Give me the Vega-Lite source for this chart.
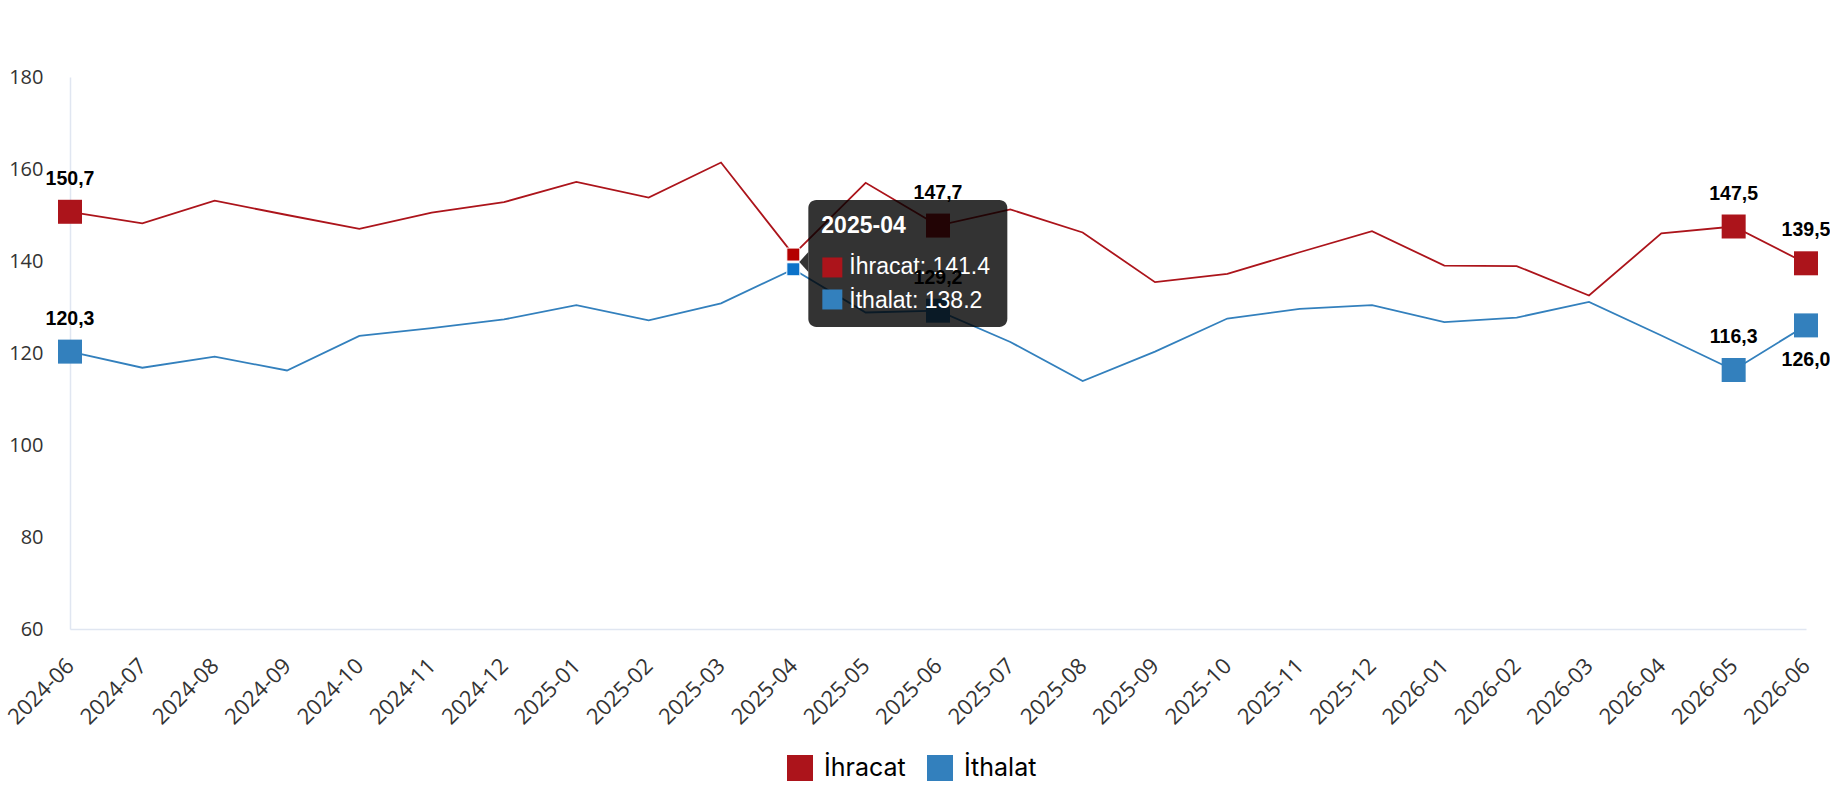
{
  "$schema": "https://vega.github.io/schema/vega-lite/v6.json",
  "width": 1736,
  "height": 552,
  "autosize": "none",
  "padding": {"left": 70, "top": 77, "right": 24, "bottom": 171},
  "data": {
    "values": [
      {"month": "2024-06", "series": "İhracat", "value": 150.7},
      {"month": "2024-07", "series": "İhracat", "value": 148.2},
      {"month": "2024-08", "series": "İhracat", "value": 153.1},
      {"month": "2024-09", "series": "İhracat", "value": 150.0},
      {"month": "2024-10", "series": "İhracat", "value": 147.0},
      {"month": "2024-11", "series": "İhracat", "value": 150.5},
      {"month": "2024-12", "series": "İhracat", "value": 152.8},
      {"month": "2025-01", "series": "İhracat", "value": 157.2},
      {"month": "2025-02", "series": "İhracat", "value": 153.8},
      {"month": "2025-03", "series": "İhracat", "value": 161.4},
      {"month": "2025-04", "series": "İhracat", "value": 141.4},
      {"month": "2025-05", "series": "İhracat", "value": 157.0},
      {"month": "2025-06", "series": "İhracat", "value": 147.7},
      {"month": "2025-07", "series": "İhracat", "value": 151.2},
      {"month": "2025-08", "series": "İhracat", "value": 146.2},
      {"month": "2025-09", "series": "İhracat", "value": 135.4},
      {"month": "2025-10", "series": "İhracat", "value": 137.2},
      {"month": "2025-11", "series": "İhracat", "value": 141.9},
      {"month": "2025-12", "series": "İhracat", "value": 146.5},
      {"month": "2026-01", "series": "İhracat", "value": 139.0},
      {"month": "2026-02", "series": "İhracat", "value": 138.9},
      {"month": "2026-03", "series": "İhracat", "value": 132.5},
      {"month": "2026-04", "series": "İhracat", "value": 146.0},
      {"month": "2026-05", "series": "İhracat", "value": 147.5},
      {"month": "2026-06", "series": "İhracat", "value": 139.5},
      {"month": "2024-06", "series": "İthalat", "value": 120.3},
      {"month": "2024-07", "series": "İthalat", "value": 116.8},
      {"month": "2024-08", "series": "İthalat", "value": 119.2},
      {"month": "2024-09", "series": "İthalat", "value": 116.2},
      {"month": "2024-10", "series": "İthalat", "value": 123.7},
      {"month": "2024-11", "series": "İthalat", "value": 125.4},
      {"month": "2024-12", "series": "İthalat", "value": 127.3},
      {"month": "2025-01", "series": "İthalat", "value": 130.4},
      {"month": "2025-02", "series": "İthalat", "value": 127.1},
      {"month": "2025-03", "series": "İthalat", "value": 130.8},
      {"month": "2025-04", "series": "İthalat", "value": 138.2},
      {"month": "2025-05", "series": "İthalat", "value": 128.8},
      {"month": "2025-06", "series": "İthalat", "value": 129.2},
      {"month": "2025-07", "series": "İthalat", "value": 122.4},
      {"month": "2025-08", "series": "İthalat", "value": 113.9},
      {"month": "2025-09", "series": "İthalat", "value": 120.3},
      {"month": "2025-10", "series": "İthalat", "value": 127.5},
      {"month": "2025-11", "series": "İthalat", "value": 129.6},
      {"month": "2025-12", "series": "İthalat", "value": 130.4},
      {"month": "2026-01", "series": "İthalat", "value": 126.7},
      {"month": "2026-02", "series": "İthalat", "value": 127.7},
      {"month": "2026-03", "series": "İthalat", "value": 131.1},
      {"month": "2026-04", "series": "İthalat", "value": 123.8},
      {"month": "2026-05", "series": "İthalat", "value": 116.3},
      {"month": "2026-06", "series": "İthalat", "value": 126.0}
    ]
  },
  "transform": [
    {"calculate": "replace(format(datum.value, '.1f'), '.', ',')", "as": "label"},
    {"calculate": "datum.series + ': ' + format(datum.value, '.1f')", "as": "tip"}
  ],
  "encoding": {
    "x": {
      "field": "month",
      "type": "ordinal",
      "scale": {"type": "point", "padding": 0},
      "axis": {
        "title": null,
        "ticks": false,
        "domainColor": "#E0E6F1",
        "domainWidth": 1.5,
        "labelAngle": -45,
        "labelAlign": "right",
        "labelBaseline": "middle",
        "labelPadding": 33,
        "labelFont": "Open Sans",
        "labelFontSize": 22,
        "labelColor": "#333333",
        "labelOverlap": false,
        "labelBound": false
      }
    },
    "y": {
      "field": "value",
      "type": "quantitative",
      "scale": {"domain": [60, 180], "nice": false, "zero": false},
      "axis": {
        "title": null,
        "values": [60, 80, 100, 120, 140, 160, 180],
        "grid": false,
        "ticks": false,
        "domainColor": "#E0E6F1",
        "domainWidth": 1.5,
        "labelPadding": 27,
        "labelFont": "Open Sans",
        "labelFontSize": 20,
        "labelColor": "#333333"
      }
    }
  },
  "layer": [
    {
      "mark": {"type": "line", "strokeWidth": 1.8},
      "encoding": {
        "color": {
          "field": "series",
          "type": "nominal",
          "scale": {"domain": ["İhracat", "İthalat"], "range": ["#AC141B", "#3380BD"]},
          "legend": {
            "title": null,
            "orient": "none",
            "direction": "horizontal",
            "legendX": 717,
            "legendY": 678,
            "padding": 0,
            "symbolType": "square",
            "symbolSize": 676,
            "symbolStrokeWidth": 0,
            "labelFont": "Inter",
            "labelFontSize": 25,
            "labelColor": "#000000",
            "labelOffset": 11,
            "columnPadding": 21,
            "encode": {
              "symbols": {
                "update": {
                  "fill": {"scale": "color", "field": "value"},
                  "stroke": {"value": "transparent"},
                  "opacity": {"value": 1}
                }
              }
            }
          }
        }
      }
    },
    {
      "transform": [{"filter": {"field": "month", "oneOf": ["2024-06", "2025-06", "2026-05", "2026-06"]}}],
      "mark": {"type": "point", "shape": "square", "filled": true, "size": 576, "opacity": 1},
      "encoding": {"color": {"field": "series", "type": "nominal"}}
    },
    {
      "transform": [{"filter": "datum.month == '2025-04'"}],
      "mark": {"type": "point", "shape": "square", "filled": true, "size": 169, "opacity": 1, "stroke": "#ffffff", "strokeWidth": 1},
      "encoding": {
        "fill": {
          "field": "series",
          "type": "nominal",
          "scale": {"domain": ["İhracat", "İthalat"], "range": ["#B40000", "#0B72C9"]},
          "legend": null
        }
      }
    },
    {
      "transform": [{"filter": "datum.month == '2025-04' && datum.series == 'İhracat'"}],
      "mark": {
        "type": "point",
        "shape": "M-0.92,-0.638 L0.92,-0.638 A0.08,0.08 0 0 1 1,-0.558 L1,0.558 A0.08,0.08 0 0 1 0.92,0.638 L-0.92,0.638 A0.08,0.08 0 0 1 -1,0.558 L-1,-0.558 A0.08,0.08 0 0 1 -0.92,-0.638 Z",
        "size": 39601,
        "filled": true,
        "color": "#000000",
        "opacity": 0.8,
        "strokeWidth": 0,
        "xOffset": 114.5,
        "yOffset": 9
      }
    },
    {
      "transform": [{"filter": "datum.month == '2025-04' && datum.series == 'İhracat'"}],
      "mark": {
        "type": "point",
        "shape": "M-0.45,0 L0.45,-1 L0.45,1 Z",
        "size": 400,
        "filled": true,
        "color": "#000000",
        "opacity": 0.8,
        "strokeWidth": 0,
        "xOffset": 10.5,
        "yOffset": 7.4
      }
    },
    {
      "transform": [{"filter": "datum.month == '2025-04' && datum.series == 'İhracat'"}],
      "mark": {
        "type": "text",
        "align": "left",
        "baseline": "alphabetic",
        "font": "Liberation Sans",
        "fontSize": 23,
        "fontWeight": "bold",
        "color": "#ffffff",
        "dx": 28,
        "dy": -21.6
      },
      "encoding": {"text": {"field": "month"}}
    },
    {
      "transform": [{"filter": "datum.month == '2025-04' && datum.series == 'İhracat'"}],
      "mark": {"type": "point", "shape": "square", "filled": true, "size": 400, "opacity": 1, "xOffset": 39, "yOffset": 12.9},
      "encoding": {"color": {"field": "series", "type": "nominal"}}
    },
    {
      "transform": [{"filter": "datum.month == '2025-04' && datum.series == 'İthalat'"}],
      "mark": {"type": "point", "shape": "square", "filled": true, "size": 400, "opacity": 1, "xOffset": 39, "yOffset": 30.2},
      "encoding": {"color": {"field": "series", "type": "nominal"}}
    },
    {
      "transform": [{"filter": "datum.month == '2025-04' && datum.series == 'İhracat'"}],
      "mark": {"type": "text", "align": "left", "baseline": "alphabetic", "font": "Liberation Sans", "fontSize": 23, "color": "#ffffff", "dx": 56, "dy": 19},
      "encoding": {"text": {"field": "tip"}}
    },
    {
      "transform": [{"filter": "datum.month == '2025-04' && datum.series == 'İthalat'"}],
      "mark": {"type": "text", "align": "left", "baseline": "alphabetic", "font": "Liberation Sans", "fontSize": 23, "color": "#ffffff", "dx": 56, "dy": 38.3},
      "encoding": {"text": {"field": "tip"}}
    },
    {
      "transform": [
        {"filter": {"field": "month", "oneOf": ["2024-06", "2025-06", "2026-05", "2026-06"]}},
        {"filter": "!(datum.month == '2026-06' && datum.series == 'İthalat')"}
      ],
      "mark": {"type": "text", "align": "center", "baseline": "alphabetic", "font": "Liberation Sans", "fontSize": 19.5, "fontWeight": "bold", "color": "#000000", "dy": -27},
      "encoding": {"text": {"field": "label"}}
    },
    {
      "transform": [{"filter": "datum.month == '2026-06' && datum.series == 'İthalat'"}],
      "mark": {"type": "text", "align": "center", "baseline": "alphabetic", "font": "Liberation Sans", "fontSize": 19.5, "fontWeight": "bold", "color": "#000000", "dy": 41},
      "encoding": {"text": {"field": "label"}}
    }
  ],
  "config": {
    "view": {"stroke": null}
  }
}
